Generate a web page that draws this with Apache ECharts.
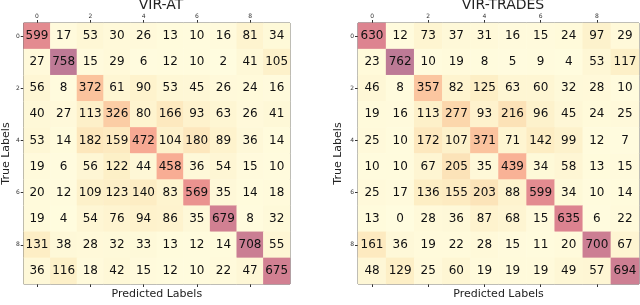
<!DOCTYPE html>
<html>
<head>
<meta charset="utf-8">
<script src="https://cdn.jsdelivr.net/npm/echarts@6/dist/echarts.min.js"></script>
<style>html,body{margin:0;padding:0;background:#fff;}#c{width:640px;height:305px;}</style>
</head>
<body>
<div id="c"></div>
<script>
const classLabels = ['0','1','2','3','4','5','6','7','8','9'];
const titleAT = 'VIR-AT';
const titleTRADES = 'VIR-TRADES';
const matrixAT = [
  [599, 17, 53, 30, 26, 13, 10, 16, 81, 34],
  [27, 758, 15, 29, 6, 12, 10, 2, 41, 105],
  [56, 8, 372, 61, 90, 53, 45, 26, 24, 16],
  [40, 27, 113, 326, 80, 166, 93, 63, 26, 41],
  [53, 14, 182, 159, 472, 104, 180, 89, 36, 14],
  [19, 6, 56, 122, 44, 458, 36, 54, 15, 10],
  [20, 12, 109, 123, 140, 83, 569, 35, 14, 18],
  [19, 4, 54, 76, 94, 86, 35, 679, 8, 32],
  [131, 38, 28, 32, 33, 13, 12, 14, 708, 55],
  [36, 116, 18, 42, 15, 12, 10, 22, 47, 675]
];
const matrixTRADES = [
  [630, 12, 73, 37, 31, 16, 15, 24, 97, 29],
  [23, 762, 10, 19, 8, 5, 9, 4, 53, 117],
  [46, 8, 357, 82, 125, 63, 60, 32, 28, 10],
  [19, 16, 113, 277, 93, 216, 96, 45, 24, 25],
  [25, 10, 172, 107, 371, 71, 142, 99, 12, 7],
  [10, 10, 67, 205, 35, 439, 34, 58, 13, 15],
  [25, 17, 136, 155, 203, 88, 599, 34, 10, 14],
  [13, 0, 28, 36, 87, 68, 15, 635, 6, 22],
  [161, 36, 19, 22, 28, 15, 11, 20, 700, 67],
  [48, 129, 25, 60, 19, 19, 19, 49, 57, 694]
];
const xName = 'Predicted Labels';
const yName = 'True Labels';

function toData(m) {
  const out = [];
  m.forEach((row, r) => row.forEach((v, c) => out.push([c, r, v])));
  return out;
}

const FONT = 'DejaVu Sans';
const chart = echarts.init(document.getElementById('c'), null, {renderer: 'canvas'});

const grids = [
  {left: 22, top: 23, width: 268, height: 267},
  {left: 358, top: 23, width: 281, height: 268}
];
const colors = ['#fffcdf', '#fdefc6', '#fcdcb0', '#fbc19c', '#f6a08f', '#dc8390', '#bd7a96'];

const xAxes = [], yAxes = [];
grids.forEach((g, i) => {
  xAxes.push({
    gridIndex: i, type: 'category', data: classLabels, position: 'top',
    axisLine: {show: false},
    axisTick: {show: true, interval: 1, alignWithLabel: true, length: 3, lineStyle: {color: '#333'}},
    axisLabel: {show: true, interval: 1, fontSize: 6, color: '#333', margin: 4, fontFamily: FONT},
    splitLine: {show: false}
  });
  xAxes.push({
    gridIndex: i, type: 'category', data: classLabels, position: 'bottom',
    axisLine: {show: false},
    axisTick: {show: true, interval: 1, alignWithLabel: true, length: 3, lineStyle: {color: '#333'}},
    axisLabel: {show: false},
    name: xName, nameLocation: 'middle', nameGap: 5,
    nameTextStyle: {fontSize: 11, color: '#222', fontFamily: FONT, verticalAlign: 'top'},
    splitLine: {show: false}
  });
  yAxes.push({
    gridIndex: i, type: 'category', data: classLabels, inverse: true,
    axisLine: {show: false},
    axisTick: {show: true, interval: 1, alignWithLabel: true, length: 3, lineStyle: {color: '#333'}},
    axisLabel: {show: true, interval: 1, fontSize: 6, color: '#333', margin: 4, fontFamily: FONT},
    name: yName, nameLocation: 'middle', nameGap: i === 0 ? 8 : 14, nameRotate: 90,
    nameTextStyle: {fontSize: 11, color: '#222', fontFamily: FONT},
    splitLine: {show: false}
  });
});

chart.setOption({
  animation: false,
  textStyle: {fontFamily: FONT},
  title: [
    {text: titleAT, left: 156, top: -7, textAlign: 'center', textStyle: {fontSize: 14, fontWeight: 'normal', color: '#222', fontFamily: FONT}},
    {text: titleTRADES, left: 498, top: -7, textAlign: 'center', textStyle: {fontSize: 14, fontWeight: 'normal', color: '#222', fontFamily: FONT}}
  ],
  grid: grids.map(g => Object.assign({show: true, borderColor: '#555', borderWidth: 1, backgroundColor: 'transparent', containLabel: false}, g)),
  xAxis: xAxes,
  yAxis: yAxes,
  visualMap: [{
    type: 'continuous', min: 0, max: 762, show: false, seriesIndex: [0, 1],
    inRange: {color: colors}
  }],
  series: [
    {type: 'heatmap', xAxisIndex: 0, yAxisIndex: 0, data: toData(matrixAT),
     label: {show: true, fontSize: 12, color: '#111', fontFamily: FONT, formatter: p => p.value[2]},
     itemStyle: {borderWidth: 0}},
    {type: 'heatmap', xAxisIndex: 2, yAxisIndex: 1, data: toData(matrixTRADES),
     label: {show: true, fontSize: 12, color: '#111', fontFamily: FONT, formatter: p => p.value[2]},
     itemStyle: {borderWidth: 0}}
  ]
});
</script>
</body>
</html>
